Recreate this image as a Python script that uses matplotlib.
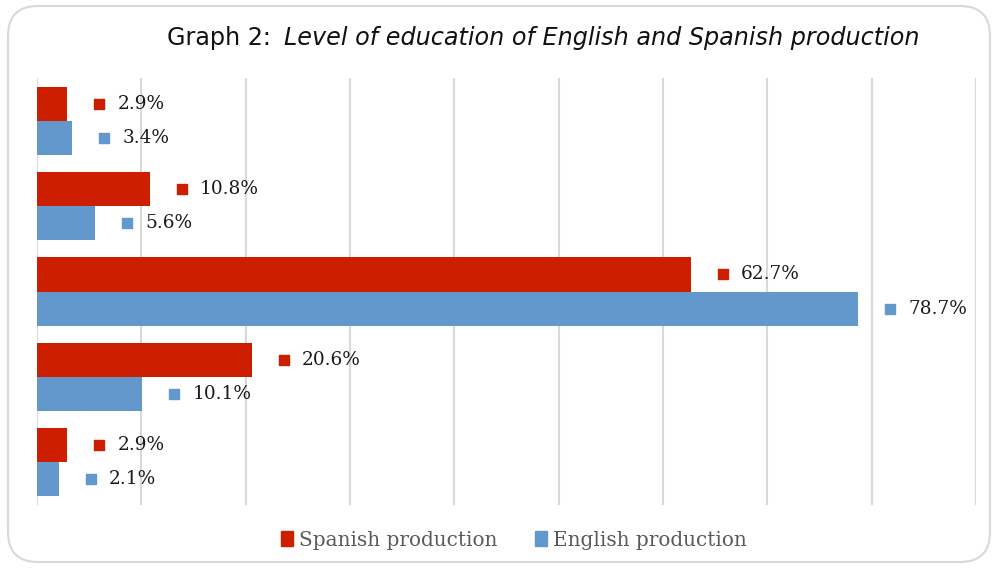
import matplotlib
matplotlib.use("Agg")
import matplotlib.pyplot as plt
import matplotlib.transforms as mtransforms
from matplotlib.patches import FancyBboxPatch
import numpy as np

categories = ["Level 1", "Level 2", "Level 3", "Level 4", "Level 5"]
spanish = [2.9, 10.8, 62.7, 20.6, 2.9]
english = [3.4, 5.6, 78.7, 10.1, 2.1]
series_names = ["Spanish production", "English production"]
red = "#CE1E00"
blue = "#6298CB"

fig = plt.figure(figsize=(9.98, 5.68), dpi=100)
W, H = 998, 568
frame = FancyBboxPatch((8 / W, 6 / H), (990 - 8) / W, (562 - 6) / H,
                       boxstyle="round,pad=0,rounding_size=0.03",
                       transform=fig.transFigure, facecolor="white",
                       edgecolor="#D9D9D9", linewidth=1.5, zorder=-5,
                       mutation_aspect=W / H)
fig.patches.append(frame)

ax = fig.add_axes([37 / W, 1 - 505 / H, (976 - 37) / W, (505 - 78) / H])
ax.set_facecolor("none")
y = np.arange(len(categories))
h = 0.4
ax.barh(y - h / 2, spanish, height=h, color=red, zorder=3)
ax.barh(y + h / 2, english, height=h, color=blue, zorder=3)
ax.set_ylim(len(categories) - 0.5, -0.5)
ax.set_xlim(0, 90)
ax.set_xticks(np.arange(0, 91, 10))
ax.set_xticklabels([])
ax.set_yticks([])
ax.tick_params(axis="x", length=0)
ax.grid(axis="x", color="#D9D9D9", linewidth=1.5, zorder=0)
for s in ax.spines.values():
    s.set_visible(False)

sq_off = mtransforms.ScaledTranslation(32 / 100, 0, fig.dpi_scale_trans)
for vals, off, col in [(spanish, -h / 2, red), (english, h / 2, blue)]:
    for i, v in enumerate(vals):
        ax.scatter([v], [i + off], marker="s", s=60, color=col, zorder=4,
                   transform=ax.transData + sq_off, clip_on=False)
        ax.annotate(f"{v:.1f}%", xy=(v, i + off), xytext=(36, 0),
                    textcoords="offset points", va="center", ha="left",
                    fontsize=13.3, family="DejaVu Serif", color="#1a1a1a")

fig.text(167 / W, 1 - 38 / H, "Graph 2:", fontsize=17.2, family="DejaVu Sans",
         va="center", ha="left", color="#111111")
fig.text(284 / W, 1 - 38 / H, "Level of education of English and Spanish production",
         fontsize=17.2, family="DejaVu Sans", style="italic", va="center",
         ha="left", color="#111111")

handles = [plt.Rectangle((0, 0), 1, 1, color=red), plt.Rectangle((0, 0), 1, 1, color=blue)]
leg = fig.legend(handles, series_names, loc="center", bbox_to_anchor=(514 / W, 1 - 540 / H),
                 ncol=2, frameon=False, prop={"family": "DejaVu Serif", "size": 14.4},
                 handlelength=0.6, handleheight=0.8, handletextpad=0.3, columnspacing=1.9)
for t in leg.get_texts():
    t.set_color("#595959")

fig.savefig("out.png", dpi=100)
